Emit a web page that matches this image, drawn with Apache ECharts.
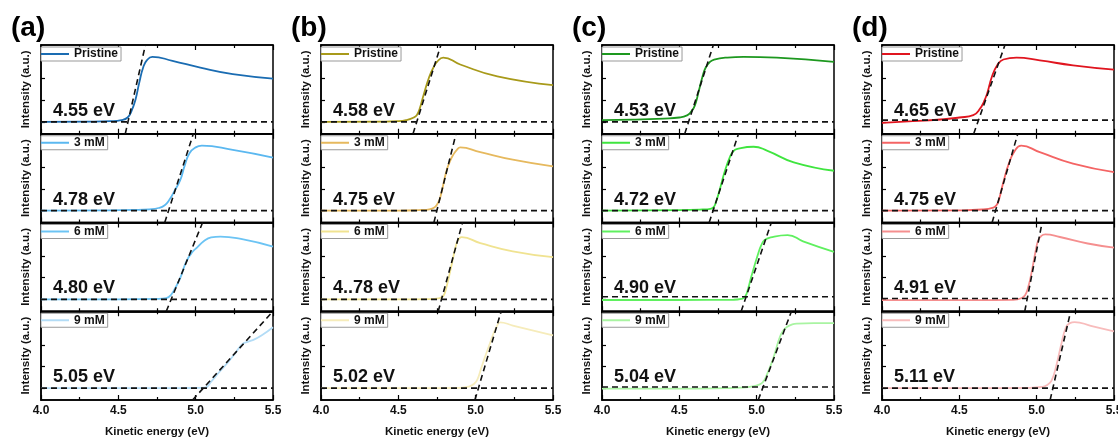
<!DOCTYPE html>
<html>
<head>
<meta charset="utf-8">
<script src="https://cdn.jsdelivr.net/npm/echarts@6.0.0/dist/echarts.min.js"></script>
<style>
  html, body { margin: 0; padding: 0; background: #fff; }
  #chart-container { width: 1118px; height: 439px; }
</style>
</head>
<body>
<div id="chart-container"></div>
<script>
// Panel labels, sample names, onset values
const panelLetters = ['(a)', '(b)', '(c)', '(d)'];
const sampleNames = ['Pristine', '3 mM', '6 mM', '9 mM'];
const xTickLabels = ['4.0', '4.5', '5.0', '5.5'];
const onsetLabels = [
  ['4.55 eV', '4.78 eV', '4.80 eV', '5.05 eV'],
  ['4.58 eV', '4.75 eV', '4..78 eV', '5.02 eV'],
  ['4.53 eV', '4.72 eV', '4.90 eV', '5.04 eV'],
  ['4.65 eV', '4.75 eV', '4.91 eV', '5.11 eV']
];
const curveColors = [
  ['#1a6cb2', '#5bb8f0', '#6cc4f4', '#b3dcf6'],
  ['#a89a1a', '#e6b95e', '#f0e391', '#f6ecbb'],
  ['#1d981f', '#3fe53f', '#5ff05f', '#a9f4a2'],
  ['#e0151f', '#f46464', '#f58f8f', '#f8bcbc']
];

// Spectra, [kinetic energy (eV), intensity (a.u.)]
const curveA1 = [[4.0,0],[4.3,0.01],[4.45,0.03],[4.52,0.08],[4.56,0.2],[4.585,0.5],[4.61,1.0],[4.635,1.8],[4.66,2.5],[4.685,2.85],[4.72,3.0],[4.85,2.82],[5.03,2.5],[5.24,2.2],[5.5,2.0]];
const curveA2 = [[4.0,0],[4.4,0.01],[4.6,0.03],[4.7,0.06],[4.76,0.12],[4.8,0.25],[4.83,0.5],[4.87,1.0],[4.9,1.4],[4.93,2.1],[4.96,2.65],[5.0,2.92],[5.04,3.0],[5.24,2.8],[5.5,2.45]];
const curveA3 = [[4.0,0],[4.5,0],[4.75,0.02],[4.81,0.06],[4.84,0.2],[4.87,0.55],[4.9,0.98],[4.94,1.75],[4.98,2.2],[5.01,2.4],[5.05,2.67],[5.1,2.86],[5.16,2.9],[5.3,2.78],[5.5,2.44]];
const curveA4 = [[4.0,0],[4.5,0],[4.9,0],[5.0,0.01],[5.06,0.02],[5.1,0.3],[5.15,0.72],[5.2,1.12],[5.25,1.55],[5.3,2.02],[5.34,2.15],[5.38,2.25],[5.43,2.45],[5.5,2.81]];

const curveB1 = [[4.0,0],[4.4,0.01],[4.5,0.03],[4.55,0.08],[4.6,0.2],[4.62,0.32],[4.64,0.65],[4.66,1.16],[4.7,2.08],[4.73,2.55],[4.75,2.77],[4.79,2.97],[4.9,2.65],[5.14,2.1],[5.5,1.7]];
const curveB2 = [[4.0,0],[4.5,0],[4.65,0.03],[4.7,0.06],[4.73,0.13],[4.75,0.28],[4.77,0.58],[4.81,1.81],[4.835,2.3],[4.855,2.58],[4.88,2.82],[4.9,2.92],[5.03,2.7],[5.24,2.35],[5.5,2.04]];
const curveB3 = [[4.0,0],[4.5,0],[4.7,0.01],[4.76,0.05],[4.79,0.15],[4.81,0.54],[4.845,1.61],[4.877,2.6],[4.895,2.82],[4.91,2.87],[5.03,2.6],[5.24,2.22],[5.5,1.95]];
const curveB4 = [[4.0,0],[4.6,0],[4.9,0.01],[4.96,0.08],[4.99,0.2],[5.01,0.38],[5.035,0.9],[5.06,1.43],[5.09,2.02],[5.114,2.5],[5.14,2.9],[5.157,3.04],[5.24,2.89],[5.5,2.43]];

const curveC1 = [[4.0,0.08],[4.2,0.1],[4.4,0.15],[4.5,0.2],[4.55,0.3],[4.575,0.46],[4.6,0.75],[4.625,1.4],[4.65,2.1],[4.67,2.5],[4.7,2.78],[4.725,2.88],[4.81,2.97],[4.915,3.0],[5.13,2.97],[5.5,2.77]];
const curveC2 = [[4.0,0],[4.5,0.02],[4.65,0.05],[4.7,0.08],[4.72,0.15],[4.735,0.35],[4.765,1.07],[4.795,1.84],[4.83,2.53],[4.85,2.75],[4.87,2.84],[4.98,2.95],[5.07,2.76],[5.24,2.23],[5.5,1.84]];
const curveC3 = [[4.0,-0.03],[4.5,-0.03],[4.85,-0.02],[4.9,0.02],[4.925,0.12],[4.945,0.5],[4.965,1.04],[5.01,2.12],[5.03,2.5],[5.05,2.73],[5.09,2.86],[5.2,2.97],[5.3,2.68],[5.5,2.19]];
const curveC4 = [[4.0,-0.02],[4.5,-0.02],[4.8,0],[4.9,0.02],[4.955,0.06],[5.02,0.17],[5.045,0.32],[5.06,0.52],[5.085,0.95],[5.11,1.44],[5.15,2.36],[5.175,2.68],[5.195,2.82],[5.23,2.94],[5.26,2.98],[5.37,3.0],[5.5,3.0]];

const curveD1 = [[4.0,-0.05],[4.2,0.03],[4.4,0.12],[4.5,0.2],[4.59,0.31],[4.635,0.62],[4.66,0.95],[4.68,1.31],[4.71,2.07],[4.745,2.61],[4.785,2.88],[4.87,2.97],[5.02,2.84],[5.235,2.61],[5.5,2.41]];
const curveD2 = [[4.0,0],[4.5,0.01],[4.65,0.05],[4.72,0.14],[4.74,0.25],[4.755,0.48],[4.785,1.32],[4.82,2.17],[4.86,2.78],[4.9,3.0],[5.02,2.7],[5.235,2.17],[5.5,1.78]];
const curveD3 = [[4.0,-0.04],[4.6,-0.04],[4.85,-0.02],[4.9,0.05],[4.925,0.19],[4.946,0.58],[4.97,1.35],[4.99,2.11],[5.01,2.73],[5.03,2.93],[5.055,3.0],[5.15,2.88],[5.33,2.58],[5.5,2.39]];
const curveD4 = [[4.0,0],[4.6,0],[4.95,0.01],[5.03,0.05],[5.065,0.13],[5.097,0.36],[5.13,1.13],[5.16,2.05],[5.19,2.82],[5.215,3.0],[5.245,3.05],[5.35,2.88],[5.5,2.62]];

const curves = [
  [curveA1, curveA2, curveA3, curveA4],
  [curveB1, curveB2, curveB3, curveB4],
  [curveC1, curveC2, curveC3, curveC4],
  [curveD1, curveD2, curveD3, curveD4]
];

// Tangent lines: energy where they cross the bottom and the top of the panel
const tangentEnds = [
  [[4.545, 4.675], [4.80, 4.985], [4.81, 5.045], [4.98, 5.50]],
  [[4.595, 4.775], [4.73, 4.873], [4.758, 4.915], [4.995, 5.165]],
  [[4.535, 4.72], [4.693, 4.883], [4.90, 5.095], [5.01, 5.225]],
  [[4.593, 4.795], [4.712, 4.878], [4.923, 5.035], [5.087, 5.22]]
];
// Background (dashed horizontal) levels
const baselineLevels = [
  [0, 0, 0, 0],
  [0, 0, 0, 0],
  [0, 0, 0.12, 0.05],
  [0.08, 0, 0.04, 0]
];

const yMin = -0.55, yMax = 3.55;
const eMin = 4.0, eMax = 5.5;

// layout
const colLeft = [41, 321, 602, 882];
const panelW = 232;
const topY = 45;
const rowH = 88.75;
const FONT = '"Liberation Sans", Arial, sans-serif';

const chart = echarts.init(document.getElementById('chart-container'));

const grids = [], xAxes = [], yAxes = [], series = [], legends = [], graphics = [], titles = [];

for (let c = 0; c < 4; c++) {
  titles.push({
    text: panelLetters[c], left: colLeft[c] - 35, top: 9,
    textStyle: { fontSize: 28, fontWeight: 'bold', fontFamily: FONT, color: '#000' }
  });
  for (let r = 0; r < 4; r++) {
    const g = grids.length;
    const gTop = topY + r * rowH;
    grids.push({
      left: colLeft[c], top: gTop, width: panelW, height: rowH,
      outerBoundsMode: 'none', containLabel: false,
      show: true, borderColor: '#000', borderWidth: 1.5, backgroundColor: 'transparent'
    });
    const last = r === 3;
    xAxes.push({
      type: 'value', gridIndex: g, min: eMin, max: eMax, interval: 0.5,
      axisLine: { show: true, onZero: false, lineStyle: { color: '#000', width: 1.5 } },
      axisTick: { show: true, inside: true, length: 5, lineStyle: { color: '#000', width: 1.2 } },
      minorTick: { show: true, splitNumber: 2, length: 3, lineStyle: { color: '#000', width: 1.2 } },
      splitLine: { show: false },
      axisLabel: {
        show: last, margin: 5, color: '#111', fontWeight: 'bold', fontSize: 12, fontFamily: FONT,
        formatter: v => xTickLabels[Math.round((v - eMin) / 0.5)]
      },
      name: last ? 'Kinetic energy (eV)' : '', nameLocation: 'middle', nameGap: 26,
      nameTextStyle: { color: '#111', fontWeight: 'bold', fontSize: 11.5, fontFamily: FONT }
    });
    xAxes.push({
      type: 'value', gridIndex: g, min: eMin, max: eMax, interval: 0.5, position: 'top',
      axisLine: { show: true, onZero: false, lineStyle: { color: '#000', width: 1.5 } },
      axisTick: { show: true, inside: true, length: 5, lineStyle: { color: '#000', width: 1.2 } },
      minorTick: { show: true, splitNumber: 2, length: 3, lineStyle: { color: '#000', width: 1.2 } },
      splitLine: { show: false }, axisLabel: { show: false }
    });
    yAxes.push({
      type: 'value', gridIndex: g, min: yMin, max: yMax,
      axisLine: { show: true, onZero: false, lineStyle: { color: '#000', width: 1.5 } },
      axisTick: { show: true, inside: true, length: 4, customValues: [0, 1, 2, 3], lineStyle: { color: '#000', width: 1.2 } },
      axisLabel: { show: false }, splitLine: { show: false },
      name: 'Intensity (a.u.)', nameLocation: 'middle', nameGap: 9,
      nameTextStyle: { color: '#111', fontWeight: 'bold', fontSize: 11.5, fontFamily: FONT }
    });

    const sName = sampleNames[r] + '#' + c;
    series.push({
      name: sName, type: 'line', xAxisIndex: 2 * g, yAxisIndex: g,
      data: curves[c][r], smooth: 0.5, symbol: 'none',
      lineStyle: { color: curveColors[c][r], width: 1.8 }, itemStyle: { color: curveColors[c][r] },
      z: 2, silent: true
    });
    const b = baselineLevels[c][r];
    series.push({
      type: 'line', xAxisIndex: 2 * g, yAxisIndex: g,
      data: [[eMin, b], [eMax, b]], symbol: 'none',
      lineStyle: { color: '#111', width: 1.6, type: [6, 4] }, z: 3, silent: true
    });
    const t = tangentEnds[c][r];
    series.push({
      type: 'line', xAxisIndex: 2 * g, yAxisIndex: g,
      data: [[t[0], yMin], [t[1], yMax]], symbol: 'none', clip: true,
      lineStyle: { color: '#111', width: 1.6, type: [6, 4] }, z: 3, silent: true
    });
    legends.push({
      data: [sName], left: colLeft[c], top: gTop + 2,
      icon: 'rect', itemWidth: 28, itemHeight: 2, itemGap: 0,
      padding: [1, 3, 1, 0], borderColor: '#999', borderWidth: 1, backgroundColor: '#fff',
      formatter: n => n.split('#')[0], selectedMode: false,
      textStyle: { fontWeight: 'bold', fontSize: 12, fontFamily: FONT, color: '#111' }
    });
    graphics.push({
      type: 'text', left: colLeft[c] + 12, top: gTop + 57, silent: true,
      style: { text: onsetLabels[c][r], font: 'bold 18px ' + FONT, fill: '#111' }
    });
  }
}

const option = {
  animation: false,
  backgroundColor: '#fff',
  title: titles,
  grid: grids,
  xAxis: xAxes,
  yAxis: yAxes,
  legend: legends,
  graphic: graphics,
  series: series
};

try {
  chart.setOption(option);
} catch (err) {
  console.error('Error rendering chart:', err);
}
</script>
</body>
</html>
